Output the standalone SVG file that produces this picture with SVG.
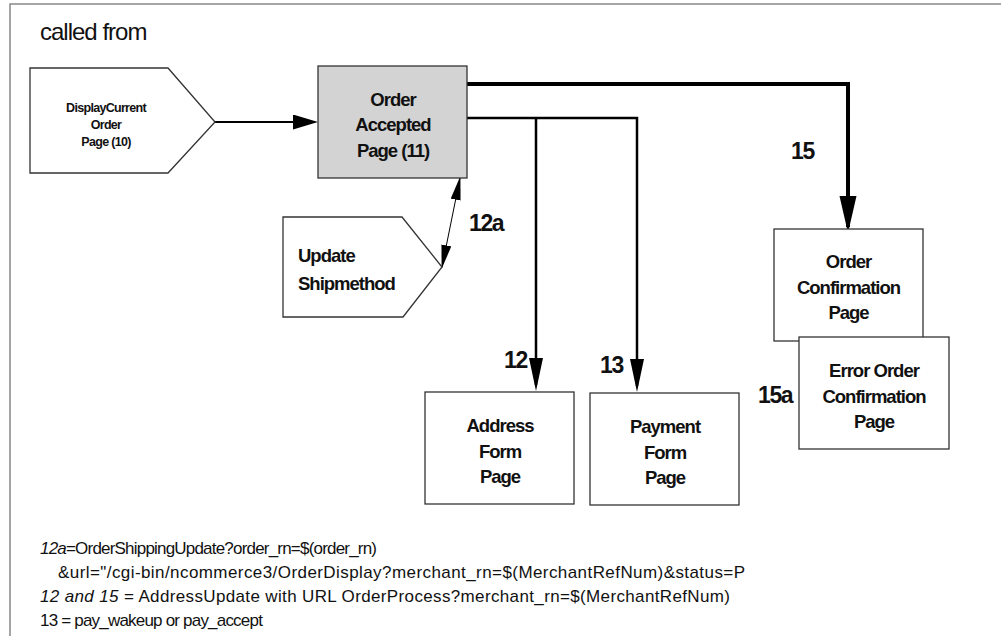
<svg xmlns="http://www.w3.org/2000/svg" width="1001" height="636" viewBox="0 0 1001 636">
<style>
text{font-family:"Liberation Sans",Arial,sans-serif;fill:#111}
.n{font-weight:bold;font-size:18.5px;text-anchor:middle;letter-spacing:-1px}
.s{font-weight:bold;font-size:12.5px;text-anchor:middle;letter-spacing:-0.7px}
.lbl{font-weight:bold;font-size:23px;letter-spacing:-1.4px}
.box{fill:#fff;stroke:#333;stroke-width:1.3}
.grey{fill:#d3d3d3}
.note{font-size:17px}
.it{font-style:italic}
.c{fill:none;stroke:#000}
</style>
<defs>
<marker id="a1" markerUnits="userSpaceOnUse" markerWidth="26" markerHeight="16" refX="19" refY="7.5" orient="auto"><path d="M0,0 L25,7.5 L0,15 z" fill="#000"/></marker>
<marker id="a2" markerUnits="userSpaceOnUse" markerWidth="38" markerHeight="20" refX="31" refY="8.5" orient="auto"><path d="M0,0 L37,8.5 L0,17 z" fill="#000"/></marker>
<marker id="a3" markerUnits="userSpaceOnUse" markerWidth="34" markerHeight="16" refX="27" refY="7" orient="auto"><path d="M0,0 L33,7 L0,14 z" fill="#000"/></marker>
<marker id="a4" markerUnits="userSpaceOnUse" markerWidth="24" markerHeight="12" refX="22" refY="5" orient="auto-start-reverse"><path d="M0,0 L24,5 L0,10 z" fill="#000"/></marker>
</defs>
<rect width="1001" height="636" fill="#fff"/>
<path d="M10,636 V4 H1001" fill="none" stroke="#888" stroke-width="1.5"/>
<text x="40" y="40" style="font-size:24px;letter-spacing:-1px">called from</text>

<g id="connectors">
<path class="c" d="M215,122 H312" stroke-width="2" marker-end="url(#a1)"/>
<path class="c" d="M467,84 H848 V227" stroke-width="4" marker-end="url(#a2)"/>
<path class="c" d="M467,118 H637 V386" stroke-width="2.5" marker-end="url(#a3)"/>
<path class="c" d="M536,118 V385" stroke-width="2.5" marker-end="url(#a3)"/>
<path class="c" d="M442,267 L460,178" stroke-width="1" marker-start="url(#a4)" marker-end="url(#a4)"/>
</g>

<g id="displayCurrent">
<path class="box" d="M30,68 H168 L215,122 L168,173 H30 Z"/>
<text class="s" x="106" y="112">DisplayCurrent</text>
<text class="s" x="106" y="129">Order</text>
<text class="s" x="106" y="146">Page (10)</text>
</g>

<g id="orderAccepted">
<rect class="box grey" x="318" y="66" width="149" height="112"/>
<text class="n" x="393" y="106">Order</text>
<text class="n" x="393" y="131">Accepted</text>
<text class="n" x="393" y="157">Page (11)</text>
</g>

<g id="updateShipmethod">
<path class="box" d="M283,217 H402 L442,267 L403,317 H283 Z"/>
<text class="n" x="298" y="262" style="text-anchor:start">Update</text>
<text class="n" x="298" y="290" style="text-anchor:start">Shipmethod</text>
</g>

<g id="orderConfirmation">
<rect class="box" x="774" y="229" width="149" height="112"/>
<text class="n" x="848.5" y="268">Order</text>
<text class="n" x="848.5" y="294">Confirmation</text>
<text class="n" x="848.5" y="319">Page</text>
</g>

<g id="errorOrderConfirmation">
<rect class="box" x="799" y="337" width="150" height="112"/>
<text class="n" x="874" y="377">Error Order</text>
<text class="n" x="874" y="403">Confirmation</text>
<text class="n" x="874" y="428">Page</text>
</g>

<g id="addressForm">
<rect class="box" x="425" y="392" width="149" height="112"/>
<text class="n" x="500" y="432">Address</text>
<text class="n" x="500" y="458">Form</text>
<text class="n" x="500" y="483">Page</text>
</g>

<g id="paymentForm">
<rect class="box" x="590" y="393" width="149" height="112"/>
<text class="n" x="665" y="433">Payment</text>
<text class="n" x="665" y="459">Form</text>
<text class="n" x="665" y="484">Page</text>
</g>

<g id="labels">
<text class="lbl" x="469" y="231">12a</text>
<text class="lbl" x="791" y="159">15</text>
<text class="lbl" x="504" y="368">12</text>
<text class="lbl" x="600" y="373">13</text>
<text class="lbl" x="758" y="403">15a</text>
</g>

<g id="notes">
<text class="note" x="40" y="554" style="letter-spacing:-0.8px"><tspan class="it">12a</tspan>=OrderShippingUpdate?order_rn=$(order_rn)</text>
<text class="note" x="58" y="578" textLength="687" lengthAdjust="spacing">&amp;url="/cgi-bin/ncommerce3/OrderDisplay?merchant_rn=$(MerchantRefNum)&amp;status=P</text>
<text class="note" x="40" y="602" textLength="690" lengthAdjust="spacing"><tspan class="it">12  and 15</tspan> = AddressUpdate with URL OrderProcess?merchant_rn=$(MerchantRefNum)</text>
<text class="note" x="40" y="626" style="letter-spacing:-0.8px">13 = pay_wakeup or pay_accept</text>
</g>
</svg>
